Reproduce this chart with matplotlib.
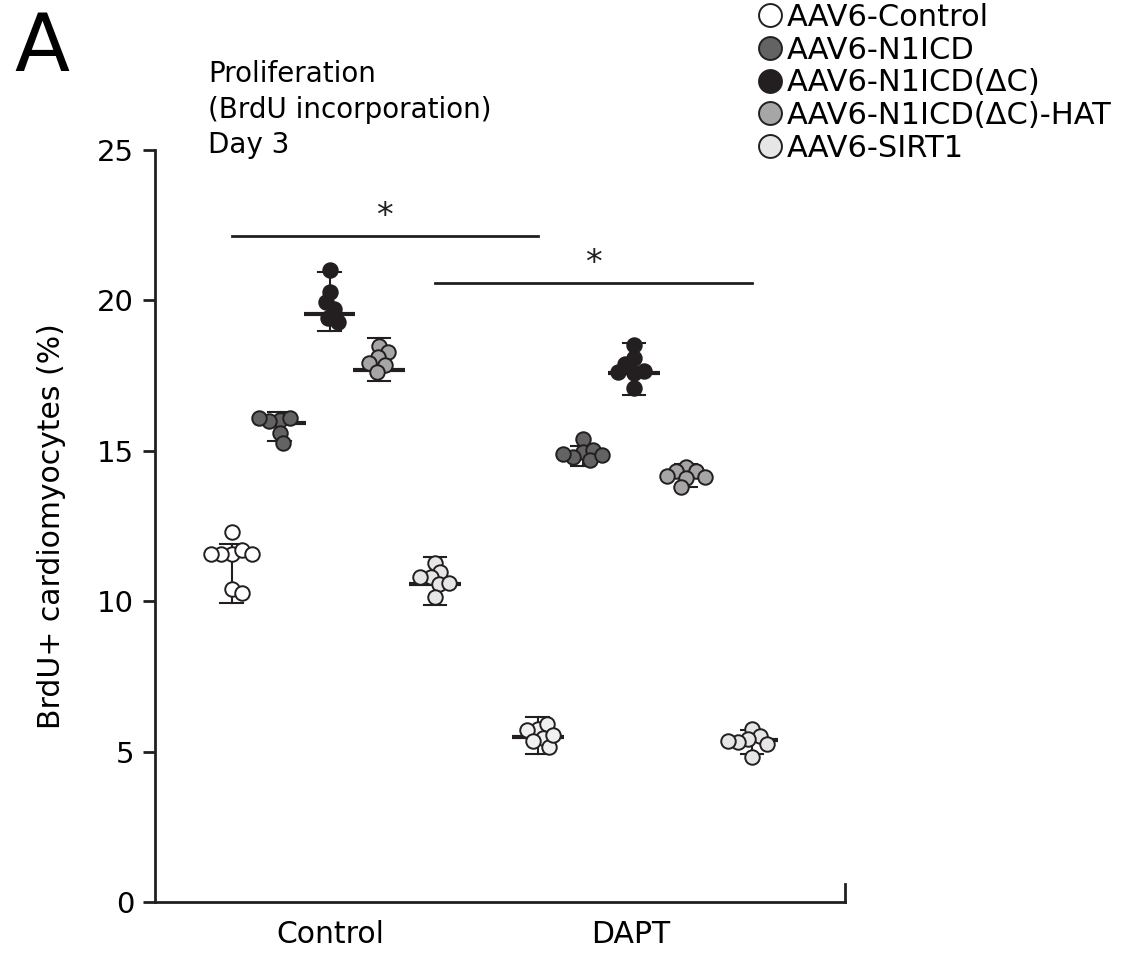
import numpy as np
import matplotlib
matplotlib.use("Agg")
import matplotlib.pyplot as plt
from matplotlib.lines import Line2D

plt.rcParams['font.family'] = ['DejaVu Sans']

# ---- data -------------------------------------------------------------
conditions = ["Control", "DAPT"]
groups = ["AAV6-Control", "AAV6-N1ICD", "AAV6-N1ICD(\u0394C)",
          "AAV6-N1ICD(\u0394C)-HAT", "AAV6-SIRT1"]

# BrdU+ cardiomyocytes (%) per animal
control_values = [
    [12.30, 11.57, 11.57, 11.70, 11.57, 11.57, 10.40, 10.27],
    [16.02, 16.09, 15.99, 16.09, 15.59, 15.26],
    [21.00, 20.28, 19.95, 19.71, 19.42, 19.28],
    [18.48, 18.28, 18.12, 17.85, 17.92, 17.62],
    [11.27, 10.97, 10.80, 10.80, 10.57, 10.60, 10.14],
]
dapt_values = [
    [5.75, 5.92, 5.72, 5.45, 5.35, 5.15, 5.55],
    [15.39, 14.96, 14.79, 15.03, 14.89, 14.69, 14.85],
    [18.52, 18.08, 17.89, 17.59, 17.65, 17.62, 17.09],
    [14.46, 14.33, 14.33, 14.13, 14.16, 14.10, 13.80],
    [5.75, 5.52, 5.42, 5.32, 5.25, 5.35, 4.82],
]

# summary line and error bar limits per group
control_center = [11.62, 15.93, 19.55, 17.69, 10.57]
control_err_low = [9.94, 15.33, 18.98, 17.32, 9.87]
control_err_high = [11.90, 16.29, 20.94, 18.75, 11.47]
dapt_center = [5.49, 14.90, 17.59, 14.16, 5.39]
dapt_err_low = [4.92, 14.50, 16.85, 13.80, 4.92]
dapt_err_high = [6.15, 15.16, 18.58, 14.56, 5.72]

y_ticks = [0, 5, 10, 15, 20, 25]

# ---- style --------------------------------------------------------------
group_fills = ["#ffffff", "#636363", "#231f20", "#a6a6a6", "#e6e6e6"]
dapt_fills = ["#f0f0f0", "#636363", "#231f20", "#a6a6a6", "#e6e6e6"]
edge = "#231f20"
group_offsets = {
    "Control": [-0.326, -0.166, 0.0, 0.163, 0.349],
    "DAPT": [-0.309, -0.160, 0.010, 0.183, 0.402],
}
marker_d_px = 14.5

W, H, DPI = 1130, 955, 100
fig = plt.figure(figsize=(W / DPI, H / DPI), dpi=DPI)
ax = fig.add_axes([155 / W, 53 / H, 690 / W, 752 / H])
ax.set_xlim(-0.581, 1.711)
ax.set_ylim(0, 25)

# pixel scale of the data axes, used for the swarm layout
p0 = ax.transData.transform((0, 0))
p1 = ax.transData.transform((1, 1))
px_x, px_y = p1[0] - p0[0], p1[1] - p0[1]


def swarm(vals, min_frac=0.72):
    placed, offs = [], []
    for i, v in enumerate(vals):
        y = v * px_y
        sides = (-1, 1) if i % 2 == 0 else (1, -1)
        found = None
        for k in range(0, 400):
            for s in ((0,) if k == 0 else sides):
                x = s * k * 0.5
                if all((x - a) ** 2 + (y - b) ** 2 >= (min_frac * marker_d_px) ** 2
                       for a, b in placed):
                    found = x
                    break
            if found is not None:
                break
        placed.append((found, y))
        offs.append(found / px_x)
    return np.array(offs)


ms = marker_d_px * 72 / DPI
line_half = 0.085
cap_half = 0.038

for ci, cond in enumerate(conditions):
    if cond == "Control":
        vals, cen, lo, hi, fills = (control_values, control_center,
                                    control_err_low, control_err_high, group_fills)
    else:
        vals, cen, lo, hi, fills = (dapt_values, dapt_center,
                                    dapt_err_low, dapt_err_high, dapt_fills)
    for gi in range(len(groups)):
        xc = ci + group_offsets[cond][gi]
        v = np.array(vals[gi])
        ax.plot(xc + swarm(v), v, linestyle="none", marker="o", ms=ms,
                mfc=fills[gi], mec=edge, mew=1.4, zorder=3)
        # error bar with caps
        ax.plot([xc, xc], [lo[gi], hi[gi]], color=edge, lw=1.5, zorder=2)
        for yv in (lo[gi], hi[gi]):
            ax.plot([xc - cap_half, xc + cap_half], [yv, yv], color=edge,
                    lw=1.5, zorder=2)
        ax.plot([xc - line_half, xc + line_half], [cen[gi], cen[gi]],
                color=edge, lw=3, zorder=2.5, solid_capstyle="butt")

# significance bars
sig = [(("Control", 0), ("DAPT", 0), 22.14),
       (("Control", 4), ("DAPT", 4), 20.58)]
for (c1, g1), (c2, g2), yb in sig:
    x1 = conditions.index(c1) + group_offsets[c1][g1]
    x2 = conditions.index(c2) + group_offsets[c2][g2]
    ax.plot([x1, x2], [yb, yb], color=edge, lw=2)
    ax.text((x1 + x2) / 2, yb + 0.1, "*", ha="center", va="bottom",
            fontsize=24, color=edge)

# axes styling
ax.spines["top"].set_visible(False)
ax.spines["right"].set_bounds(0, 0.6)
for s in ("left", "bottom", "right"):
    ax.spines[s].set_linewidth(2)
    ax.spines[s].set_color(edge)
ax.set_yticks(y_ticks)
ax.set_yticklabels([str(t) for t in y_ticks], fontsize=21)
ax.tick_params(axis="y", length=9, width=2, pad=6, color=edge)
ax.set_xticks([0, 1])
ax.set_xticklabels(conditions, fontsize=21.5)
ax.tick_params(axis="x", length=0, pad=13)
ax.set_ylabel("BrdU+ cardiomyocytes (%)", fontsize=21.5, labelpad=22)

fig.text(208 / W, 1 - 60 / H, "Proliferation\n(BrdU incorporation)\nDay 3",
         fontsize=20, ha="left", va="top", linespacing=1.35)
fig.text(14 / W, 1 - 10 / H, "A", fontsize=58, ha="left", va="top")

handles = [Line2D([], [], linestyle="none", marker="o", ms=16.5, mfc=c,
                  mec=edge, mew=1.4) for c in group_fills]
fig.legend(handles, groups, loc="upper left", bbox_to_anchor=(757 / W, 1 - 3 / H),
           frameon=False, fontsize=22, handlelength=0.85, handletextpad=0.12,
           labelspacing=0.12, borderpad=0.0, borderaxespad=0.0)

fig.savefig("out.png", dpi=DPI)
